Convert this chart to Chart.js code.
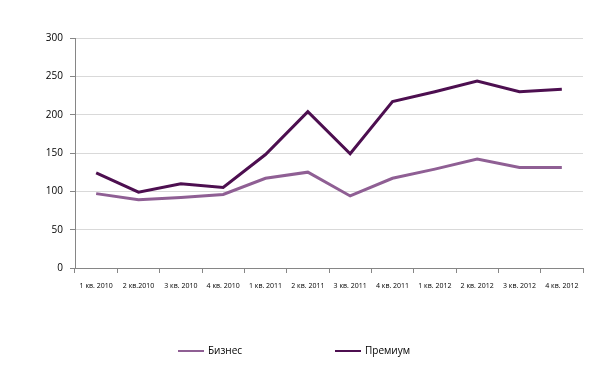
<!DOCTYPE html>
<html>
<head>
<meta charset="utf-8">
<script src="https://cdn.jsdelivr.net/npm/chart.js@4"></script>
<style>
  html, body { margin: 0; padding: 0; background: #fff; }
  #wrap { width: 611px; height: 370px; }
</style>
</head>
<body>
<div id="wrap"><canvas id="chart"></canvas></div>
<script>
var quarters = ['1 кв. 2010', '2 кв.2010', '3 кв. 2010', '4 кв. 2010',
    '1 кв. 2011', '2 кв. 2011', '3 кв. 2011', '4 кв. 2011',
    '1 кв. 2012', '2 кв. 2012', '3 кв. 2012', '4 кв. 2012'];
var business = [97, 89, 92, 96, 117, 125, 94, 117, 129, 142, 131, 131];
var premium = [124, 99, 110, 105, 148, 204, 149, 217, 230, 244, 230, 233];

var FONT = '"Open Sans", "DejaVu Sans", sans-serif';
var AXIS = '#868686';

// legend drawn under the chart, items spaced like the original
var bottomLegend = {
    id: 'bottomLegend',
    afterDraw: function (chart) {
        var ctx = chart.ctx;
        var starts = [178, 335];
        var y = 351;
        ctx.save();
        ctx.font = '10px ' + FONT;
        ctx.textBaseline = 'middle';
        chart.data.datasets.forEach(function (ds, i) {
            var x = starts[i];
            ctx.strokeStyle = ds.borderColor;
            ctx.lineWidth = 2;
            ctx.beginPath();
            ctx.moveTo(x, y);
            ctx.lineTo(x + 26, y);
            ctx.stroke();
            ctx.fillStyle = '#000';
            ctx.fillText(ds.label, x + 30, y);
        });
        ctx.restore();
    }
};

new Chart(document.getElementById('chart').getContext('2d'), {
    type: 'line',
    data: {
        labels: quarters,
        datasets: [{
            label: 'Бизнес',
            data: business,
            borderColor: '#8f5f94',
            borderWidth: 3,
            pointRadius: 0,
            tension: 0,
            fill: false
        }, {
            label: 'Премиум',
            data: premium,
            borderColor: '#4d0f50',
            borderWidth: 3,
            pointRadius: 0,
            tension: 0,
            fill: false
        }]
    },
    options: {
        responsive: true,
        maintainAspectRatio: false,
        animation: false,
        layout: { padding: { left: 0, right: 28, top: 38, bottom: 72 } },
        plugins: {
            legend: { display: false },
            tooltip: { enabled: false }
        },
        scales: {
            x: {
                offset: true,
                grid: {
                    offset: true,
                    drawOnChartArea: false,
                    tickLength: 5,
                    tickColor: AXIS
                },
                border: { color: AXIS },
                ticks: {
                    color: '#000',
                    font: { family: FONT, size: 7 },
                    maxRotation: 0,
                    autoSkip: false,
                    padding: 9
                },
                afterFit: function (s) { s.height = 30; }
            },
            y: {
                min: 0,
                max: 300,
                ticks: {
                    stepSize: 50,
                    color: '#000',
                    font: { family: FONT, size: 10 },
                    padding: 7
                },
                grid: {
                    color: '#d9d9d9',
                    tickLength: 5,
                    tickColor: AXIS
                },
                border: { color: AXIS },
                afterFit: function (s) { s.width = 75; }
            }
        }
    },
    plugins: [bottomLegend]
});
</script>
</body>
</html>
